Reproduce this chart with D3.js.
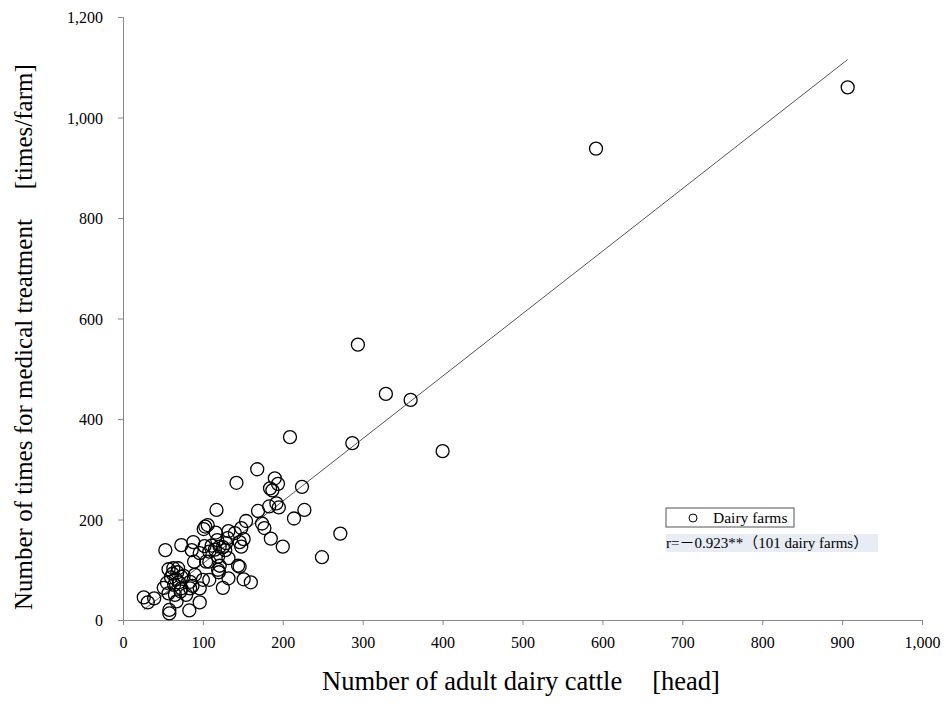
<!DOCTYPE html>
<html>
<head>
<meta charset="utf-8">
<script src="https://cdn.jsdelivr.net/npm/d3@7"></script>
<style>
  body { margin: 0; background: #fff; }
  text { font-family: "Liberation Serif", "Tinos", "DejaVu Serif", serif; fill: #000; }
  .cjk { font-family: "Liberation Serif", "DejaVu Serif", serif, "Noto Sans CJK JP"; }
</style>
</head>
<body>
<div id="viz"></div>
<script>
var width = 946,
    height = 704;

// dairy cattle per farm [head]
var cattle = [907, 592, 294, 329, 360, 400, 209, 287, 168, 142, 190, 194, 184, 187, 224,
  117, 169, 183, 192, 195, 227, 214, 154, 174, 177, 148, 140, 151, 146, 148, 185, 200,
  272, 249, 144, 106, 101, 103, 132, 116, 131, 121, 73, 53, 88, 86, 96, 89, 108, 119,
  132, 146, 108, 121, 119, 132, 151, 160, 125, 108, 100, 90, 84, 96, 84, 96, 83, 57,
  63, 69, 73, 73, 26, 31, 39, 58, 58, 55, 51, 57, 65, 67, 62, 68, 66, 60, 70, 64, 76,
  72, 115, 118, 129, 125, 111, 120, 104, 102, 128, 87, 79];
// medical treatments per farm [times/farm]
var treatments = [1060, 938, 548, 450, 438, 336, 364, 352, 300, 273, 282, 271, 262, 258, 265,
  219, 217, 226, 232, 224, 219, 202, 197, 192, 183, 183, 173, 161, 155, 146, 162, 146,
  172, 125, 108, 189, 181, 186, 177, 174, 163, 146, 149, 139, 155, 139, 133, 116, 136, 126,
  123, 106, 116, 108, 100, 83, 81, 75, 64, 80, 80, 90, 76, 63, 63, 35, 19, 101,
  103, 103, 86, 63, 45, 35, 43, 20, 13, 74, 64, 53, 50, 37, 92, 95, 82, 85, 75, 70, 88,
  57, 140, 159, 153, 145, 148, 95, 116, 147, 139, 68, 50];

var xTicks = [0, 100, 200, 300, 400, 500, 600, 700, 800, 900, 1000];
var yTicks = [0, 200, 400, 600, 800, 1000, 1200];

// fitted line: intercept, slope
var trend = [-12, 1.243];

var legendLabel = "Dairy farms";
var statLabel = "r=－0.923**（101 dairy farms）";

var svg = d3.select("#viz")
    .append("svg")
    .attr("width", width)
    .attr("height", height);

var x = d3.scaleLinear().domain([0, 1000]).range([123, 922]);
var y = d3.scaleLinear().domain([0, 1200]).range([620, 17]);

var fmt = d3.format(",");

// axes
var xAxis = svg.append("g")
    .attr("transform", "translate(0,620)")
    .call(d3.axisBottom(x).tickValues(xTicks).tickFormat(fmt).tickSize(5).tickPadding(6));
var yAxis = svg.append("g")
    .attr("transform", "translate(123,0)")
    .call(d3.axisLeft(y).tickValues(yTicks).tickFormat(fmt).tickSize(5).tickPadding(15));

[xAxis, yAxis].forEach(function(a) {
  a.attr("font-family", null);
  a.select(".domain").attr("stroke", "#888");
  a.selectAll(".tick line").attr("stroke", "#888");
  a.selectAll(".tick text")
      .style("font-size", "16px")
      .attr("fill", "#000");
});
xAxis.selectAll(".tick text").attr("dy", "1.05em");
yAxis.selectAll(".tick text").attr("dy", "0.35em");

// trend line over observed range
var xMin = d3.min(cattle), xMax = d3.max(cattle);
svg.append("line")
    .attr("x1", x(xMin))
    .attr("y1", y(trend[0] + trend[1] * xMin))
    .attr("x2", x(xMax))
    .attr("y2", y(trend[0] + trend[1] * xMax))
    .attr("stroke", "#555")
    .attr("stroke-width", 1);

// points
svg.append("g")
  .selectAll("circle")
  .data(d3.range(cattle.length))
  .enter().append("circle")
    .attr("cx", function(i) { return x(cattle[i]); })
    .attr("cy", function(i) { return y(treatments[i]); })
    .attr("r", 6.5)
    .attr("fill", "none")
    .attr("stroke", "#000")
    .attr("stroke-width", 1.3);

// legend
var lg = svg.append("g").attr("transform", "translate(666,508)");
lg.append("rect")
    .attr("width", 128).attr("height", 19)
    .attr("fill", "#fff").attr("stroke", "#555").attr("stroke-width", 1);
lg.append("circle")
    .attr("cx", 27).attr("cy", 10).attr("r", 4)
    .attr("fill", "none").attr("stroke", "#000").attr("stroke-width", 1);
lg.append("text")
    .attr("x", 47).attr("y", 15)
    .style("font-size", "15.5px")
    .text(legendLabel);

var st = svg.append("g").attr("transform", "translate(666,534)");
st.append("rect")
    .attr("width", 212).attr("height", 18)
    .attr("fill", "#e8edf5");
st.append("text")
    .attr("class", "cjk")
    .attr("x", 0).attr("y", 14)
    .style("font-size", "15px")
    .text(statLabel);

// axis titles
var xt = svg.append("text")
    .attr("x", 322).attr("y", 690)
    .style("font-size", "26.5px");
xt.append("tspan").text("Number of adult dairy cattle");
xt.append("tspan").attr("dx", 30).text("[head]");

var yt = svg.append("text")
    .attr("transform", "translate(32,610) rotate(-90)")
    .style("font-size", "25px");
yt.append("tspan").text("Number of times for medical treatment");
yt.append("tspan").attr("dx", 30).text("[times/farm]");
</script>
</body>
</html>
